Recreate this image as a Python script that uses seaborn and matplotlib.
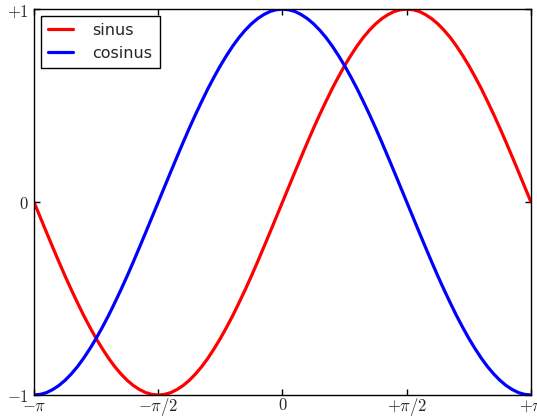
import numpy as np
import matplotlib
matplotlib.use("Agg")
import matplotlib.pyplot as plt
import seaborn as sns

# x positions in units of pi
x_pi = [-1.000, -0.975, -0.950, -0.925, -0.900, -0.875, -0.850, -0.825, -0.800, -0.775,
        -0.750, -0.725, -0.700, -0.675, -0.650, -0.625, -0.600, -0.575, -0.550, -0.525,
        -0.500, -0.475, -0.450, -0.425, -0.400, -0.375, -0.350, -0.325, -0.300, -0.275,
        -0.250, -0.225, -0.200, -0.175, -0.150, -0.125, -0.100, -0.075, -0.050, -0.025,
        0.000, 0.025, 0.050, 0.075, 0.100, 0.125, 0.150, 0.175, 0.200, 0.225,
        0.250, 0.275, 0.300, 0.325, 0.350, 0.375, 0.400, 0.425, 0.450, 0.475,
        0.500, 0.525, 0.550, 0.575, 0.600, 0.625, 0.650, 0.675, 0.700, 0.725,
        0.750, 0.775, 0.800, 0.825, 0.850, 0.875, 0.900, 0.925, 0.950, 0.975, 1.000]
sinus = [0.000, -0.078, -0.156, -0.233, -0.309, -0.383, -0.454, -0.522, -0.588, -0.649,
         -0.707, -0.760, -0.809, -0.853, -0.891, -0.924, -0.951, -0.972, -0.988, -0.997,
         -1.000, -0.997, -0.988, -0.972, -0.951, -0.924, -0.891, -0.853, -0.809, -0.760,
         -0.707, -0.649, -0.588, -0.522, -0.454, -0.383, -0.309, -0.233, -0.156, -0.078,
         0.000, 0.078, 0.156, 0.233, 0.309, 0.383, 0.454, 0.522, 0.588, 0.649,
         0.707, 0.760, 0.809, 0.853, 0.891, 0.924, 0.951, 0.972, 0.988, 0.997,
         1.000, 0.997, 0.988, 0.972, 0.951, 0.924, 0.891, 0.853, 0.809, 0.760,
         0.707, 0.649, 0.588, 0.522, 0.454, 0.383, 0.309, 0.233, 0.156, 0.078, 0.000]
cosinus = [-1.000, -0.997, -0.988, -0.972, -0.951, -0.924, -0.891, -0.853, -0.809, -0.760,
           -0.707, -0.649, -0.588, -0.522, -0.454, -0.383, -0.309, -0.233, -0.156, -0.078,
           0.000, 0.078, 0.156, 0.233, 0.309, 0.383, 0.454, 0.522, 0.588, 0.649,
           0.707, 0.760, 0.809, 0.853, 0.891, 0.924, 0.951, 0.972, 0.988, 0.997,
           1.000, 0.997, 0.988, 0.972, 0.951, 0.924, 0.891, 0.853, 0.809, 0.760,
           0.707, 0.649, 0.588, 0.522, 0.454, 0.383, 0.309, 0.233, 0.156, 0.078,
           0.000, -0.078, -0.156, -0.233, -0.309, -0.383, -0.454, -0.522, -0.588, -0.649,
           -0.707, -0.760, -0.809, -0.853, -0.891, -0.924, -0.951, -0.972, -0.988, -0.997, -1.000]
xtick_pi = [-1.0, -0.5, 0.0, 0.5, 1.0]
xtick_labels = [r'$-\pi$', r'$-\pi/2$', r'$0$', r'$+\pi/2$', r'$+\pi$']
ytick_vals = [-1, 0, 1]
ytick_labels = [r'$-1$', r'$0$', r'$+1$']

sns.set_style("white")
plt.rcParams['mathtext.fontset'] = 'cm'
plt.rcParams['font.family'] = ['DejaVu Sans']

x = np.array(x_pi) * np.pi

fig = plt.figure(figsize=(5.37, 4.16), dpi=100)
ax = fig.add_axes([0.0633, 0.0505, 0.9255, 0.9275])

sns.lineplot(x=x, y=sinus, ax=ax, color='red', linewidth=2.3, label='sinus')
sns.lineplot(x=x, y=cosinus, ax=ax, color='blue', linewidth=2.3, label='cosinus')

ax.set_xlim(-np.pi, np.pi)
ax.set_ylim(-1, 1)
ax.set_xticks(np.array(xtick_pi) * np.pi)
ax.set_xticklabels(xtick_labels)
ax.set_yticks(ytick_vals)
ax.set_yticklabels(ytick_labels)
ax.tick_params(direction='in', length=4, width=1, color='black', labelsize=12,
               top=True, right=True, bottom=True, left=True)
ax.tick_params(axis='x', pad=1.0)
ax.tick_params(axis='y', pad=4)
for s in ax.spines.values():
    s.set_visible(True)
    s.set_color('black')
    s.set_linewidth(1)

leg = ax.legend(loc='upper left', borderaxespad=0.42,
                fontsize=11.5, fancybox=False, framealpha=1, edgecolor='black',
                handlelength=1.6, handletextpad=1.2, borderpad=0.45,
                labelspacing=0.5)
leg.get_frame().set_linewidth(1)

fig.savefig('out.png', dpi=100)
